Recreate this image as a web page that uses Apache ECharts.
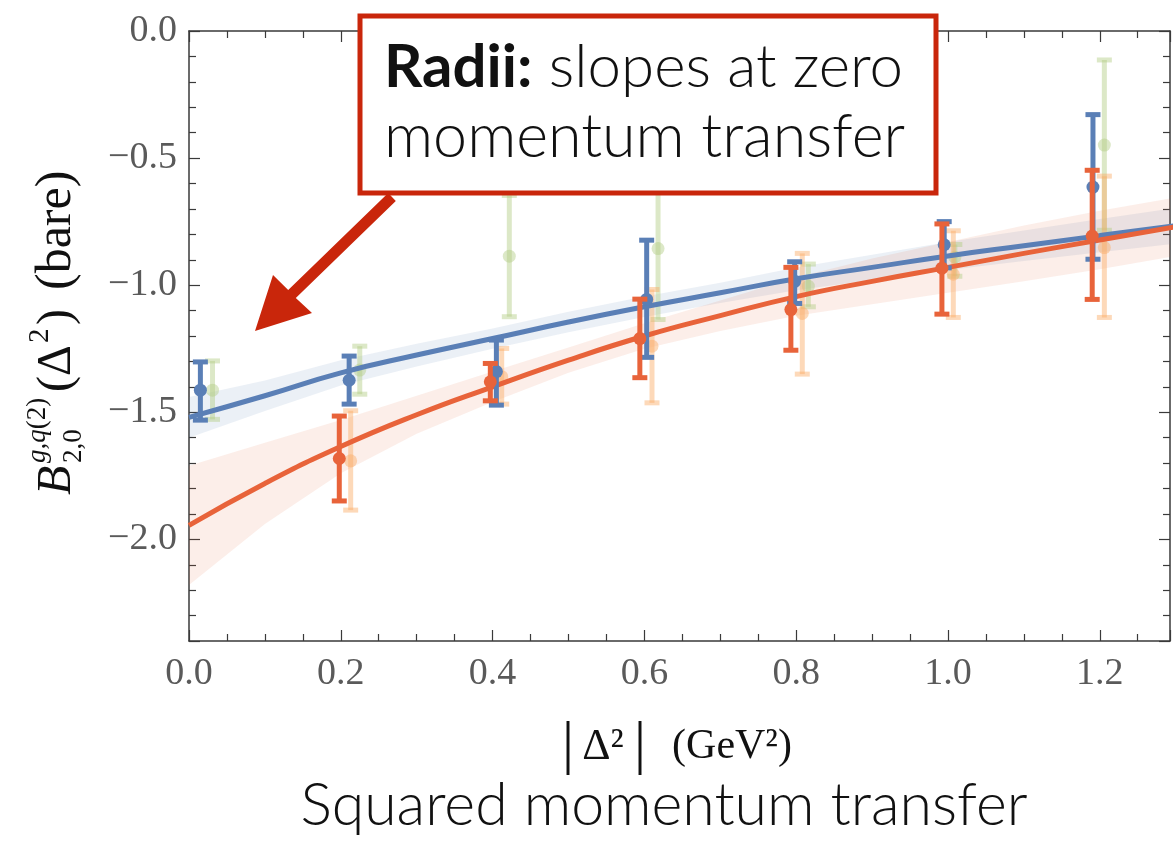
<!DOCTYPE html>
<html>
<head>
<meta charset="utf-8">
<script src="https://cdn.jsdelivr.net/npm/echarts@6/dist/echarts.min.js"></script>
<style>
html,body{margin:0;padding:0;background:#fff;}
#chart{width:1173px;height:841px;}
</style>
</head>
<body>
<div id="chart"></div>
<script>
// ---- data ----
const xTicks = [0.0, 0.2, 0.4, 0.6, 0.8, 1.0, 1.2];
const yTicks = [0.0, -0.5, -1.0, -1.5, -2.0];

const blueX  = [0.015, 0.211, 0.405, 0.603, 0.798, 0.995, 1.191];
const blueY  = [-1.413, -1.374, -1.340, -1.056, -0.985, -0.841, -0.614];
const blueLo = [-1.531, -1.468, -1.472, -1.284, -1.072, -0.932, -0.898];
const blueHi = [-1.302, -1.279, -1.216, -0.823, -0.908, -0.750, -0.329];

const orangeX  = [0.198, 0.397, 0.594, 0.793, 0.992, 1.190];
const orangeY  = [-1.682, -1.380, -1.210, -1.096, -0.933, -0.807];
const orangeLo = [-1.849, -1.455, -1.364, -1.256, -1.114, -1.056];
const orangeHi = [-1.515, -1.308, -1.055, -0.930, -0.759, -0.548];

const greenX  = [0.031, 0.225, 0.422, 0.618, 0.816, 1.009, 1.206];
const greenY  = [-1.413, -1.334, -0.886, -0.856, -1.004, -0.890, -0.449];
const greenLo = [-1.528, -1.429, -1.124, -1.135, -1.085, -0.965, -0.784];
const greenHi = [-1.298, -1.240, -0.647, -0.574, -0.917, -0.840, -0.114];

const peachX  = [0.213, 0.412, 0.610, 0.808, 1.007, 1.206];
const peachY  = [-1.691, -1.360, -1.240, -1.111, -0.957, -0.852];
const peachLo = [-1.885, -1.468, -1.463, -1.350, -1.127, -1.127];
const peachHi = [-1.494, -1.249, -1.017, -0.875, -0.786, -0.571];

const fitX       = [0, 0.1, 0.2, 0.3, 0.4, 0.5, 0.6, 0.7, 0.8, 0.9, 1.0, 1.1, 1.2, 1.3];
const blueFit    = [-1.52, -1.435, -1.345, -1.275, -1.21, -1.145, -1.085, -1.03, -0.975, -0.93, -0.885, -0.845, -0.805, -0.766];
const blueBand   = [0.08, 0.06, 0.05, 0.045, 0.04, 0.04, 0.04, 0.04, 0.045, 0.05, 0.055, 0.06, 0.065, 0.07];
const orangeFit  = [-1.945, -1.78, -1.635, -1.51, -1.40, -1.295, -1.20, -1.12, -1.045, -0.985, -0.93, -0.875, -0.822, -0.770];
const orangeBand = [0.235, 0.16, 0.105, 0.075, 0.06, 0.05, 0.05, 0.06, 0.075, 0.09, 0.10, 0.11, 0.115, 0.115];

// ---- helpers ----
const BLUE = '#5a7fb6', ORANGE = '#e8633a';
const GREEN_L = 'rgba(178,204,130,0.45)', PEACH_L = 'rgba(250,170,100,0.45)';
const RED = '#c9260b';
const SERIF = '"Liberation Serif", "DejaVu Serif", serif';
const SANS = 'Lato, "Open Sans", sans-serif';

function errData(xs, ys, lo, hi) { return xs.map((x, i) => [x, ys[i], lo[i], hi[i]]); }
function errRender(color, capHalf, lw, r) {
  return function (params, api) {
    const x = api.value(0), y = api.value(1), lo = api.value(2), hi = api.value(3);
    const a = api.coord([x, lo]), b = api.coord([x, hi]), p = api.coord([x, y]);
    const st = { stroke: color, lineWidth: lw };
    return { type: 'group', children: [
      { type: 'line', shape: { x1: a[0], y1: a[1], x2: b[0], y2: b[1] }, style: st },
      { type: 'line', shape: { x1: a[0] - capHalf, y1: a[1], x2: a[0] + capHalf, y2: a[1] }, style: st },
      { type: 'line', shape: { x1: b[0] - capHalf, y1: b[1], x2: b[0] + capHalf, y2: b[1] }, style: st },
      { type: 'circle', shape: { cx: p[0], cy: p[1], r: r }, style: { fill: color } }
    ]};
  };
}
function errSeries(xs, ys, lo, hi, color, z) {
  return { type: 'custom', z: z, clip: true, data: errData(xs, ys, lo, hi),
    renderItem: errRender(color, 7.5, 5, 6.5), encode: { x: 0, y: [1, 2, 3] } };
}
function bandSeries(fit, half, color) {
  return { type: 'custom', z: 1, clip: true, silent: true,
    data: fitX.map((x, i) => [x, fit[i] - half[i], fit[i] + half[i]]),
    encode: { x: 0, y: [1, 2] },
    renderItem: function (params, api) {
      if (params.dataIndex !== 0) return null;
      const up = fitX.map((x, i) => api.coord([x, fit[i] + half[i]]));
      const lo = fitX.map((x, i) => api.coord([x, fit[i] - half[i]])).reverse();
      return { type: 'polygon', shape: { points: up.concat(lo) }, style: { fill: color } };
    } };
}
function fitSeries(fit, color) {
  return { type: 'line', z: 3, smooth: true, symbol: 'none', silent: true,
    lineStyle: { color: color, width: 5 }, data: fitX.map((x, i) => [x, fit[i]]) };
}

const AX_LINE = { show: true, onZero: false, lineStyle: { color: '#3a3a3a', width: 1.5 } };
const AX_TICK = { show: true, inside: true, length: 11, lineStyle: { color: '#3a3a3a', width: 1.2 } };
const minor = n => ({ show: true, splitNumber: n, length: 7, lineStyle: { color: '#3a3a3a', width: 1.2 } });
const X_MAX = 1.2925;
const fmtX = v => v.toFixed(1);
const fmtY = v => (Math.abs(v) < 1e-9 ? '0.0' : '\u2212' + Math.abs(v).toFixed(1));

const chart = echarts.init(document.getElementById('chart'), null, { renderer: 'canvas' });
const option = {
  animation: false,
  backgroundColor: '#fff',
  grid: { left: 189, top: 31, width: 981, height: 610, containLabel: false },
  xAxis: [
    { type: 'value', position: 'bottom', min: 0, max: X_MAX, interval: 0.2,
      axisLine: AX_LINE, axisTick: AX_TICK, minorTick: minor(4), splitLine: { show: false },
      axisLabel: { show: true, margin: 14, fontFamily: SERIF, fontSize: 38, color: '#5a5a5a',
        showMaxLabel: false, formatter: v => (xTicks.some(t => Math.abs(t - v) < 1e-6) ? fmtX(v) : '') } },
    { type: 'value', position: 'top', min: 0, max: X_MAX, interval: 0.2,
      axisLine: AX_LINE, axisTick: AX_TICK, minorTick: minor(4), splitLine: { show: false },
      axisLabel: { show: false } }
  ],
  yAxis: [
    { type: 'value', position: 'left', min: -2.4, max: 0, splitNumber: 5,
      axisLine: AX_LINE, axisTick: AX_TICK, minorTick: minor(5), splitLine: { show: false },
      axisLabel: { show: true, margin: 12, fontFamily: SERIF, fontSize: 38, color: '#5a5a5a',
        showMinLabel: false, formatter: v => (yTicks.some(t => Math.abs(t - v) < 1e-6) ? fmtY(v) : '') } },
    { type: 'value', position: 'right', min: -2.4, max: 0, splitNumber: 5,
      axisLine: AX_LINE, axisTick: AX_TICK, minorTick: minor(5), splitLine: { show: false },
      axisLabel: { show: false } }
  ],
  series: [
    bandSeries(blueFit, blueBand, 'rgba(90,128,184,0.12)'),
    bandSeries(orangeFit, orangeBand, 'rgba(232,100,58,0.11)'),
    errSeries(greenX, greenY, greenLo, greenHi, GREEN_L, 2),
    errSeries(peachX, peachY, peachLo, peachHi, PEACH_L, 2),
    fitSeries(blueFit, BLUE),
    fitSeries(orangeFit, ORANGE),
    errSeries(blueX, blueY, blueLo, blueHi, BLUE, 4),
    errSeries(orangeX, orangeY, orangeLo, orangeHi, ORANGE, 4)
  ],
  graphic: [
    // y-axis title (rotated)
    { type: 'group', x: 57, y: 495, rotation: Math.PI / 2, z: 50, children: [
      { type: 'text', x: 0, y: 0, style: { text: 'B', font: 'italic 48px ' + SERIF, fill: '#111', verticalAlign: 'middle', align: 'left' } },
      { type: 'text', x: 32, y: -19, style: { text: '{i|g,q}{r|(2)}', rich: { i: { font: 'italic 27px ' + SERIF, fill: '#111' }, r: { font: '27px ' + SERIF, fill: '#111' } }, verticalAlign: 'middle', align: 'left' } },
      { type: 'text', x: 32, y: 17, style: { text: '2,0', font: '27px ' + SERIF, fill: '#111', verticalAlign: 'middle', align: 'left' } },
      { type: 'text', x: 103, y: 0, style: { text: '(\u0394', font: '48px ' + SERIF, fill: '#111', verticalAlign: 'middle', align: 'left' } },
      { type: 'text', x: 152, y: -17, style: { text: '2', font: '29px ' + SERIF, fill: '#111', verticalAlign: 'middle', align: 'left' } },
      { type: 'text', x: 170, y: 0, style: { text: ')', font: '48px ' + SERIF, fill: '#111', verticalAlign: 'middle', align: 'left' } },
      { type: 'text', x: 205, y: 0, style: { text: '(bare)', font: '50px ' + SERIF, fill: '#111', verticalAlign: 'middle', align: 'left' } }
    ]},
    // x-axis title
    { type: 'text', x: 568, y: 746, z: 50, style: { text: '|', font: '60px ' + SERIF, fill: '#111', align: 'center', verticalAlign: 'middle' } },
    { type: 'text', x: 603, y: 747, z: 50, style: { text: '\u0394\u00B2', font: '44px ' + SERIF, fill: '#111', align: 'center', verticalAlign: 'middle' } },
    { type: 'text', x: 640, y: 746, z: 50, style: { text: '|', font: '60px ' + SERIF, fill: '#111', align: 'center', verticalAlign: 'middle' } },
    { type: 'text', x: 732, y: 747, z: 50, style: { text: '(GeV\u00B2)', font: '42px ' + SERIF, fill: '#111', align: 'center', verticalAlign: 'middle' } },
    { type: 'text', x: 664, y: 806, z: 50, style: { text: 'Squared momentum transfer', font: '300 59px ' + SANS, fill: '#111', align: 'center', verticalAlign: 'middle' } },
    // arrow
    { type: 'polygon', z: 60, shape: { points: [[395.8, 200.9], [388.2, 193.1], [288.2, 290.1], [273, 275], [255, 331], [312, 313], [295.8, 297.9]] }, style: { fill: RED } },
    // annotation box
    { type: 'rect', z: 61, shape: { x: 360, y: 16, width: 576, height: 177 }, style: { fill: '#fff', stroke: RED, lineWidth: 5 } },
    { type: 'text', z: 62, x: 384, y: 68, style: { text: '{b|Radii:} slopes at zero', font: '300 60px ' + SANS, fill: '#111',
      rich: { b: { font: 'bold 60px ' + SANS, fill: '#111' } }, align: 'left', verticalAlign: 'middle' } },
    { type: 'text', z: 62, x: 384, y: 137, style: { text: 'momentum transfer', font: '300 61px ' + SANS, fill: '#111', align: 'left', verticalAlign: 'middle' } }
  ]
};
chart.setOption(option);
</script>
</body>
</html>
